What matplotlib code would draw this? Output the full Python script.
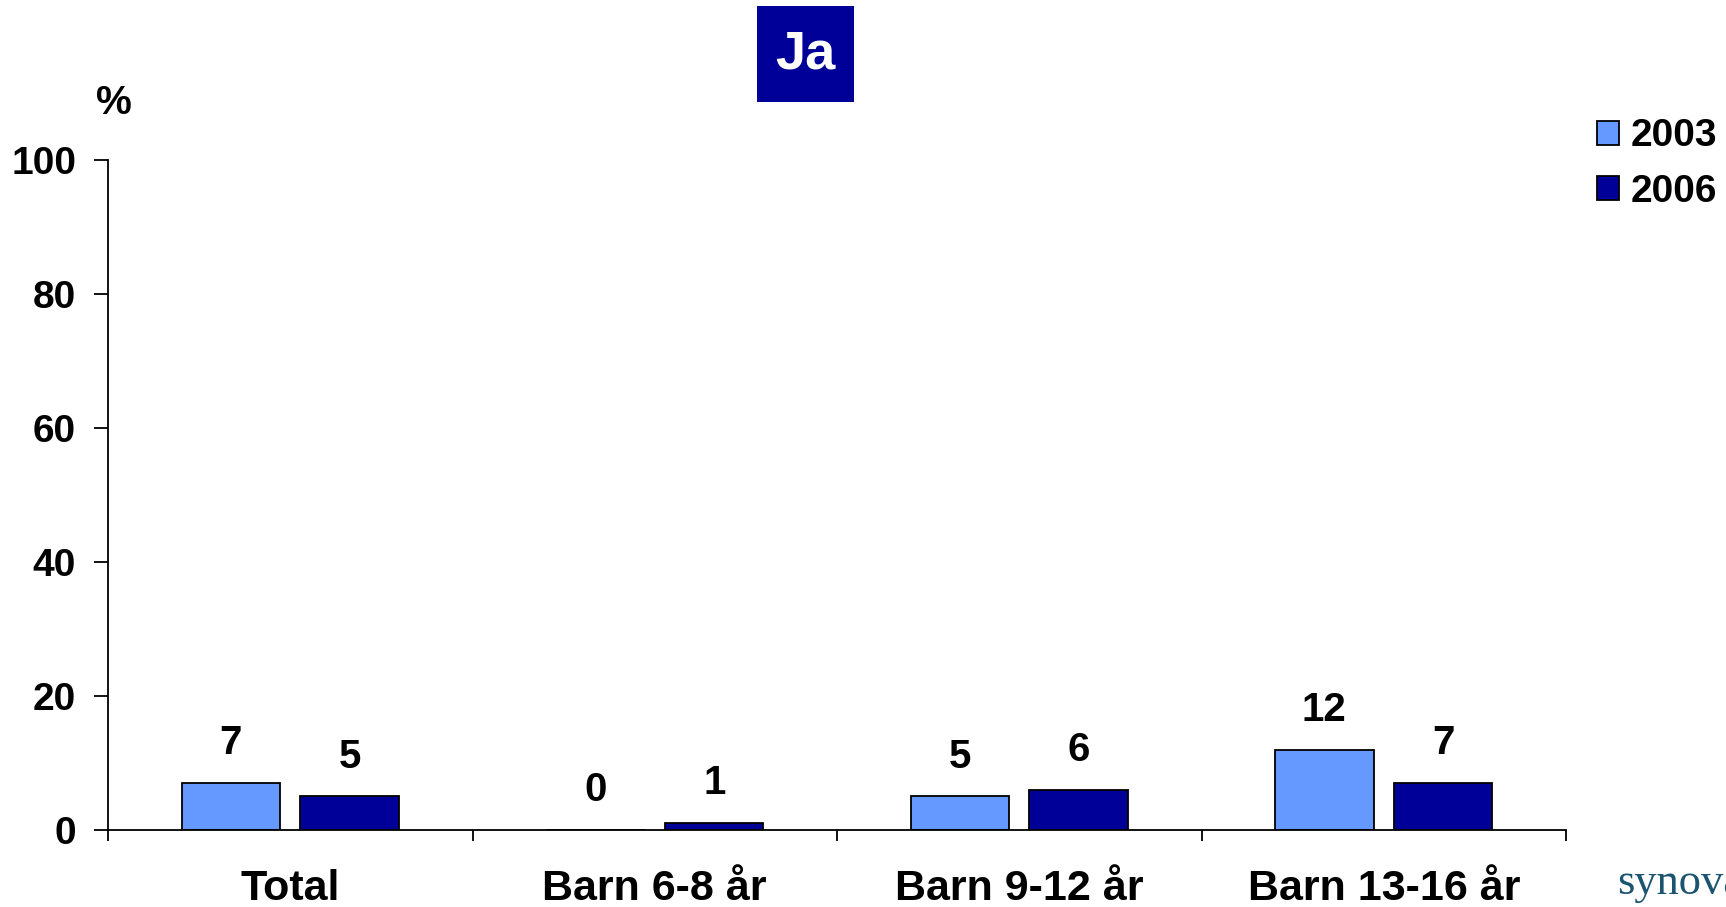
import numpy as np
import matplotlib
matplotlib.use("Agg")
from matplotlib import pyplot as plt
from matplotlib.patches import Patch, Rectangle

plt.rcParams["font.family"] = ["Liberation Sans", "DejaVu Sans"]
plt.rcParams["font.weight"] = "bold"

categories = ["Total", "Barn 6-8 år", "Barn 9-12 år", "Barn 13-16 år"]
values_2003 = [7, 0, 5, 12]
values_2006 = [5, 1, 6, 7]
series_names = ["2003", "2006"]
y_ticks = [0, 20, 40, 60, 80, 100]

COLOR_2003 = "#6699FF"
COLOR_2006 = "#000099"


def main():
    fig = plt.figure(figsize=(17.26, 9.07), dpi=100)
    ax = fig.add_axes([0.0626, 0.0849, 0.8447, 0.7387])

    x = np.arange(len(categories))
    width = 0.27
    offset = 0.163
    bars1 = ax.bar(x - offset, values_2003, width, color=COLOR_2003,
                   edgecolor="black", linewidth=1.3)
    bars2 = ax.bar(x + offset, values_2006, width, color=COLOR_2006,
                   edgecolor="black", linewidth=1.3)

    for bars, vals in [(bars1, values_2003), (bars2, values_2006)]:
        for b, v in zip(bars, vals):
            ax.annotate(str(v), (b.get_x() + b.get_width() / 2, v),
                        xytext=(0, 15), textcoords="offset points",
                        ha="center", va="bottom", fontsize=29,
                        fontweight="bold")

    ax.set_xlim(-0.5, len(categories) - 0.5)
    ax.set_ylim(0, 100)
    ax.set_yticks(y_ticks)
    ax.set_yticklabels([str(t) for t in y_ticks], fontsize=28, fontweight="bold")
    ax.tick_params(axis="y", direction="out", length=10, width=1.3, pad=13)

    ax.set_xticks(np.arange(len(categories) + 1) - 0.5)
    ax.set_xticklabels([])
    ax.tick_params(axis="x", which="major", direction="out", length=8, width=1.3)
    ax.set_xticks(x, minor=True)
    ax.set_xticklabels(categories, minor=True, fontsize=31, fontweight="bold")
    ax.tick_params(axis="x", which="minor", length=0, pad=28)

    for s in ["top", "right"]:
        ax.spines[s].set_visible(False)
    for s in ["left", "bottom"]:
        ax.spines[s].set_linewidth(1.3)

    fig.text(0.0663, 0.886, "%", fontsize=29, fontweight="bold",
             ha="center", va="center")

    # title box
    fig.patches.append(Rectangle((0.4386, 0.8875), 0.0562, 0.1058,
                                 transform=fig.transFigure, facecolor=COLOR_2006,
                                 edgecolor="none"))
    fig.text(0.4667, 0.940, "Ja", fontsize=39, fontweight="bold", color="white",
             ha="center", va="center")

    handles = [Patch(facecolor=COLOR_2003, edgecolor="black", linewidth=1.3),
               Patch(facecolor=COLOR_2006, edgecolor="black", linewidth=1.3)]
    fig.legend(handles, series_names, loc="upper left",
               bbox_to_anchor=(0.905, 0.908), frameon=False,
               prop={"size": 28, "weight": "bold"},
               handlelength=0.57, handleheight=0.57, handletextpad=0.3,
               labelspacing=0.5)

    fig.text(0.937, 0.014, "synova", fontsize=32, color="#1A5470",
             family="Liberation Serif", fontweight="normal",
             ha="left", va="baseline")

    fig.savefig("out.png", dpi=100)


if __name__ == "__main__":
    main()
